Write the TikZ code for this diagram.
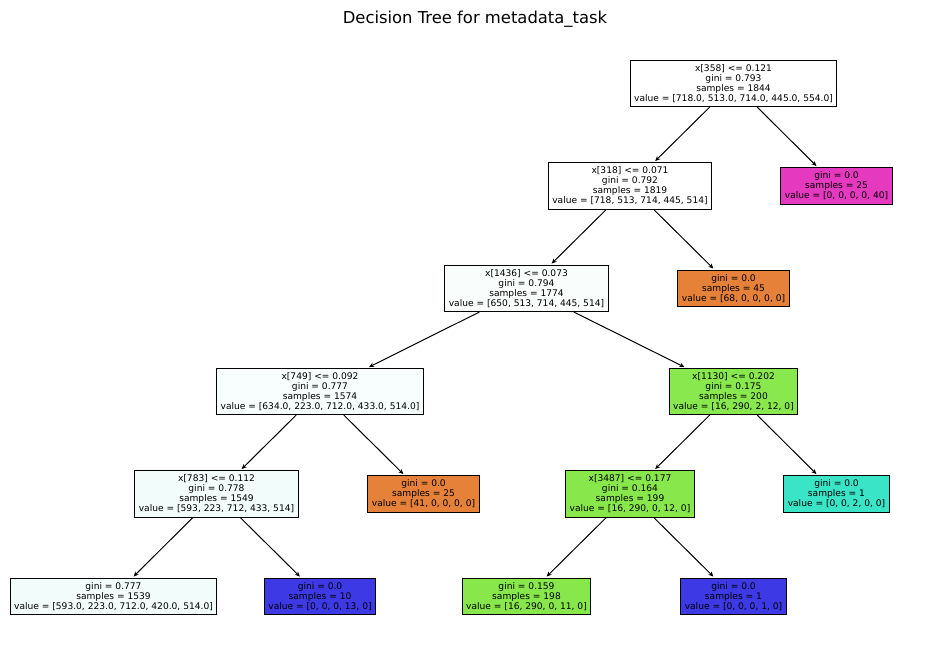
\documentclass[tikz,border=0pt]{standalone}
\usepackage{fontspec}
\setmainfont{DejaVu Sans}
\usetikzlibrary{arrows.meta}
\definecolor{corange}{RGB}{229,129,57}
\definecolor{cpink}{RGB}{229,57,192}
\definecolor{ccyan}{RGB}{57,229,198}
\definecolor{cblue}{RGB}{60,57,229}
\definecolor{cgreenA}{RGB}{136,232,77}
\definecolor{cgreenB}{RGB}{135,231,75}
\definecolor{tintA}{RGB}{249,254,253}
\definecolor{tintB}{RGB}{247,254,253}
\definecolor{tintC}{RGB}{242,253,251}
\tikzset{
  box/.style={draw=black, line width=1pt, align=center, text=black,
    font=\fontsize{9.1}{10}\selectfont, inner xsep=4pt, inner ysep=4pt, fill=white},
  edge/.style={-{Stealth[length=5pt,width=4.5pt]}, line width=1pt, shorten >=2pt}
}
\begin{document}
\begin{tikzpicture}[x=1pt,y=-1pt]
\useasboundingbox (0,0) rectangle (950,658);
\node[font=\fontsize{16.4}{19}\selectfont, anchor=base] (title) at (475,24) {Decision Tree for metadata\_task};

\node[box] (root) at (733.5,83.5) {x[358] <= 0.121\\gini = 0.793\\samples = 1844\\value = [718.0, 513.0, 714.0, 445.0, 554.0]};
\node[box] (n1) at (630,186) {x[318] <= 0.071\\gini = 0.792\\samples = 1819\\value = [718, 513, 714, 445, 514]};
\node[box, fill=cpink] (l1) at (836.5,186) {gini = 0.0\\samples = 25\\value = [0, 0, 0, 0, 40]};
\node[box, fill=tintA] (n2) at (526.5,288.5) {x[1436] <= 0.073\\gini = 0.794\\samples = 1774\\value = [650, 513, 714, 445, 514]};
\node[box, fill=corange] (l2) at (733.5,288.5) {gini = 0.0\\samples = 45\\value = [68, 0, 0, 0, 0]};
\node[box, fill=tintB] (n3) at (320,391.5) {x[749] <= 0.092\\gini = 0.777\\samples = 1574\\value = [634.0, 223.0, 712.0, 433.0, 514.0]};
\node[box, fill=cgreenA] (n4) at (733.5,391.5) {x[1130] <= 0.202\\gini = 0.175\\samples = 200\\value = [16, 290, 2, 12, 0]};
\node[box, fill=tintC] (n5) at (216.5,494) {x[783] <= 0.112\\gini = 0.778\\samples = 1549\\value = [593, 223, 712, 433, 514]};
\node[box, fill=corange] (l3) at (423.5,494) {gini = 0.0\\samples = 25\\value = [41, 0, 0, 0, 0]};
\node[box, fill=cgreenB] (n6) at (630,494) {x[3487] <= 0.177\\gini = 0.164\\samples = 199\\value = [16, 290, 0, 12, 0]};
\node[box, fill=ccyan] (l4) at (836.5,494) {gini = 0.0\\samples = 1\\value = [0, 0, 2, 0, 0]};
\node[box, fill=tintC] (l5) at (113.5,596.5) {gini = 0.777\\samples = 1539\\value = [593.0, 223.0, 712.0, 420.0, 514.0]};
\node[box, fill=cblue] (l6) at (320,596.5) {gini = 0.0\\samples = 10\\value = [0, 0, 0, 13, 0]};
\node[box, fill=cgreenB] (l7) at (526.5,596.5) {gini = 0.159\\samples = 198\\value = [16, 290, 0, 11, 0]};
\node[box, fill=cblue] (l8) at (733.5,596.5) {gini = 0.0\\samples = 1\\value = [0, 0, 0, 1, 0]};

\draw[edge] (root) -- (n1);
\draw[edge] (root) -- (l1);
\draw[edge] (n1) -- (n2);
\draw[edge] (n1) -- (l2);
\draw[edge] (n2) -- (n3);
\draw[edge] (n2) -- (n4);
\draw[edge] (n3) -- (n5);
\draw[edge] (n3) -- (l3);
\draw[edge] (n4) -- (n6);
\draw[edge] (n4) -- (l4);
\draw[edge] (n5) -- (l5);
\draw[edge] (n5) -- (l6);
\draw[edge] (n6) -- (l7);
\draw[edge] (n6) -- (l8);
\end{tikzpicture}
\end{document}
